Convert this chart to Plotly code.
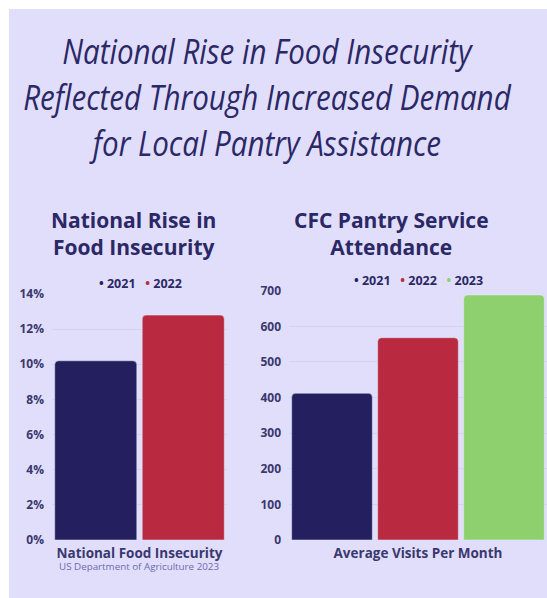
import plotly.graph_objects as go

W, H = 547, 598

def px(x):
    return x / W

def py(y):
    return 1 - y / H

# ---------------- data ----------------
title_lines = ["National Rise in Food Insecurity",
               "Reflected Through Increased Demand",
               "for Local Pantry Assistance"]

nat_title = ["National Rise in", "Food Insecurity"]
nat_category = ["National Food Insecurity"]
nat_years = ["2021", "2022"]
nat_values = [10.2, 12.8]
nat_ticks = [0, 2, 4, 6, 8, 10, 12, 14]
nat_source = "US Department of Agriculture 2023"

cfc_title = ["CFC Pantry Service", "Attendance"]
cfc_category = ["Average Visits Per Month"]
cfc_years = ["2021", "2022", "2023"]
cfc_values = [412, 568, 688]
cfc_ticks = [0, 100, 200, 300, 400, 500, 600, 700]

year_colors = {"2021": "#24205F", "2022": "#B92A40", "2023": "#8FD06E"}

# ---------------- style ----------------
BG = "#E1DEFC"
NAVY = "#2B2866"
TICK = "#3A386E"
GRID = "#D4D1F1"
BOLD = "Open Sans"
TITLE_FONT = "Open Sans"

fig = go.Figure()

for yr, v in zip(nat_years, nat_values):
    fig.add_trace(go.Bar(x=nat_category, y=[v], name=yr, marker_color=year_colors[yr],
                         marker_cornerradius=4, showlegend=False,
                         xaxis="x", yaxis="y"))
for yr, v in zip(cfc_years, cfc_values):
    fig.add_trace(go.Bar(x=cfc_category, y=[v], name=yr, marker_color=year_colors[yr],
                         marker_cornerradius=4, showlegend=False,
                         xaxis="x2", yaxis="y2"))

axis_common = dict(showgrid=True, gridcolor=GRID, gridwidth=1, zeroline=False,
                   showline=False, ticks="", fixedrange=True, automargin=False,
                   ticklabelstandoff=7,
                   tickfont=dict(family=BOLD, size=12, color=TICK, weight="bold"))
xcommon = dict(showgrid=False, zeroline=False, showline=False, ticks="",
               automargin=False, fixedrange=True, ticklabelstandoff=3,
               tickfont=dict(family=BOLD, size=13.5, color=TICK, weight="bold"))

fig.update_layout(
    width=W, height=H,
    margin=dict(l=0, r=0, t=0, b=0, pad=0, autoexpand=False),
    paper_bgcolor="white",
    plot_bgcolor="rgba(0,0,0,0)",
    barmode="group", bargap=0, bargroupgap=0.062,
    showlegend=False,
    xaxis=dict(domain=[px(52), px(227)], **xcommon),
    yaxis=dict(domain=[py(540), py(294)], range=[0, 14], tickvals=nat_ticks,
               ticktext=[f"{t}%" for t in nat_ticks], **axis_common),
    xaxis2=dict(domain=[px(289), 1.0], **xcommon),
    yaxis2=dict(domain=[py(540), py(290.7)], range=[0, 700], tickvals=cfc_ticks,
                anchor="x2", **axis_common),
    shapes=[dict(type="rect", xref="paper", yref="paper", x0=px(9), x1=1, y0=0, y1=py(9),
                 fillcolor=BG, line=dict(width=0), layer="below")],
)

ann = []
ann.append(dict(text="<br>".join(title_lines), xref="paper", yref="paper",
                x=px(267), y=py(96), xanchor="center", yanchor="middle", showarrow=False,
                font=dict(family=TITLE_FONT, size=35.5, color=NAVY, style="italic")))
ann.append(dict(text="<br>".join(nat_title), xref="paper", yref="paper",
                x=px(133), y=py(233), xanchor="center", yanchor="middle", showarrow=False,
                font=dict(family=BOLD, size=21, color=NAVY, weight="bold")))
ann.append(dict(text="<br>".join(cfc_title), xref="paper", yref="paper",
                x=px(391), y=py(233), xanchor="center", yanchor="middle", showarrow=False,
                font=dict(family=BOLD, size=21, color=NAVY, weight="bold")))
ann.append(dict(text=nat_source, xref="paper", yref="paper",
                x=px(139), y=py(566), xanchor="center", yanchor="middle", showarrow=False,
                font=dict(family=BOLD, size=9.8, color="#6C6AB0")))

def legend_text(years):
    parts = [f"<span style='color:{year_colors[y]}'>•</span>&nbsp;{y}" for y in years]
    return "&nbsp;&nbsp;&nbsp;".join(parts)

ann.append(dict(text=legend_text(nat_years), xref="paper", yref="paper",
                x=px(140), y=py(283), xanchor="center", yanchor="middle", showarrow=False,
                font=dict(family=BOLD, size=12.5, color=NAVY, weight="bold")))
ann.append(dict(text=legend_text(cfc_years), xref="paper", yref="paper",
                x=px(418), y=py(280), xanchor="center", yanchor="middle", showarrow=False,
                font=dict(family=BOLD, size=12.5, color=NAVY, weight="bold")))

fig.update_layout(annotations=ann)

post = """
document.documentElement.style.margin='0';
document.body.style.margin='0';document.body.style.padding='0';
document.body.style.overflow='hidden';
var gd=document.getElementById('{plot_id}');
gd.style.position='fixed';gd.style.left='0px';gd.style.top='0px';
function squeezeTitle(){
  var t=gd.querySelector('.annotation[data-index="0"] text.annotation-text');
  if(!t) return;
  t.style.transform='';
  var bb=t.getBBox();
  if(!bb.width) return;
  var s=489/bb.width;
  t.style.transformBox='fill-box';
  t.style.transformOrigin='center';
  t.style.transform='scaleX('+s+')';
}
squeezeTitle();
if(gd.on){gd.on('plotly_afterplot', squeezeTitle);}
setTimeout(squeezeTitle, 50);
"""

fig.write_html("out.html", post_script=post, config={"displayModeBar": False})
